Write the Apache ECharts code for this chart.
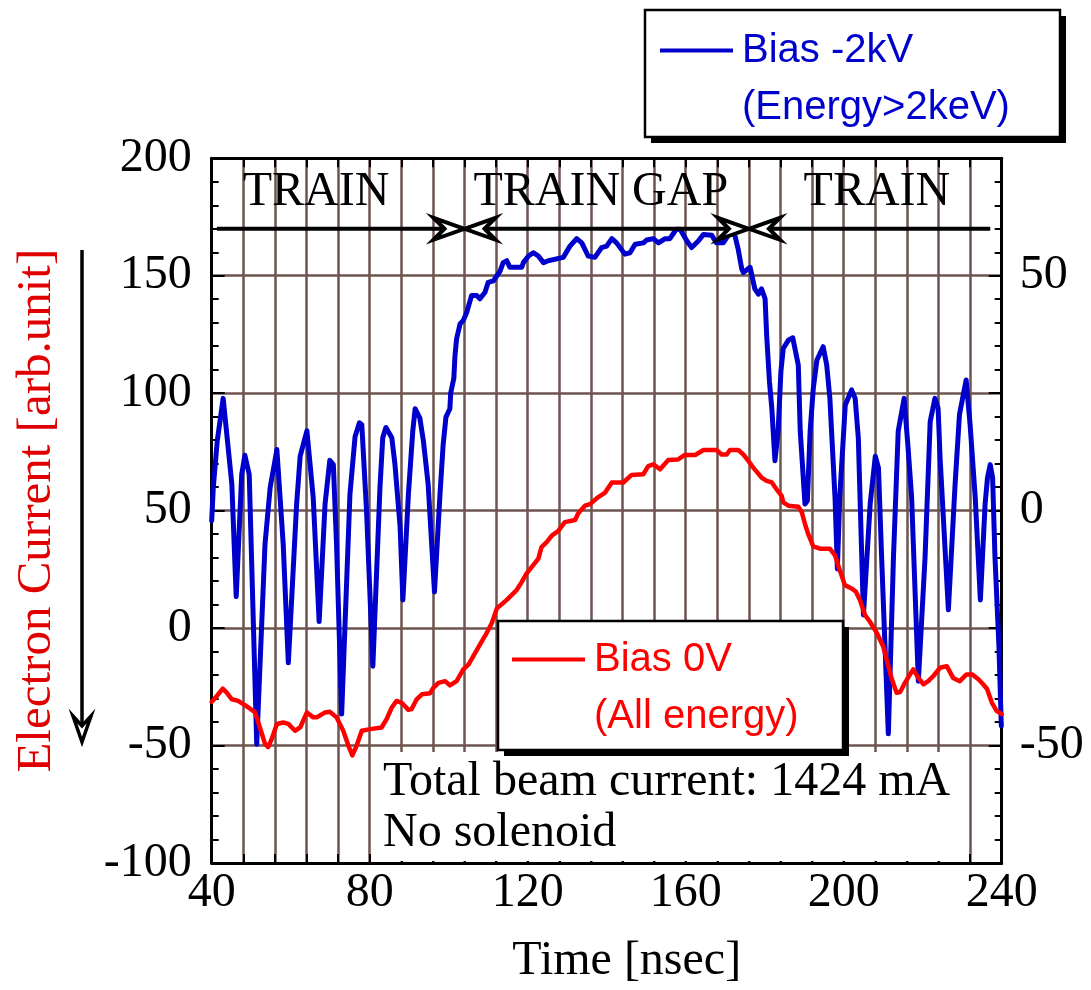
<!DOCTYPE html>
<html>
<head>
<meta charset="utf-8">
<script src="https://cdn.jsdelivr.net/npm/echarts@6/dist/echarts.min.js"></script>
<style>
html,body{margin:0;padding:0;background:#ffffff;}
#chart{width:1091px;height:990px;}
</style>
</head>
<body>
<div id="chart"></div>
<script>
// ---------------- data ----------------
const xTicks = [40, 80, 120, 160, 200, 240];
const leftTicks = [-100, -50, 0, 50, 100, 150, 200];
const rightTicks = [-50, 0, 50];

// Bias -2kV (Energy>2keV), right axis
const blueTime = [40.0, 40.4, 41.4, 42.9, 45.1, 46.2, 47.6, 48.4, 49.5, 51.4,
  53.5, 54.8, 56.5, 58.1, 59.4, 61.5, 62.4, 64.1, 65.7, 67.2,
  68.7, 69.9, 70.8, 71.6, 72.9, 75.0, 76.3, 77.4, 78.0, 79.2,
  80.8, 82.6, 83.3, 84.1, 85.6, 86.4, 87.7, 88.4, 89.8, 90.9,
  91.5, 92.7, 93.6, 94.8, 96.4, 97.8, 98.6, 99.3, 100.3, 100.5,
  101.3, 101.6, 102.0, 102.9, 103.7, 104.6, 105.8, 107.1, 107.9, 109.2,
  110.0, 111.3, 112.2, 113.0, 113.8, 114.7, 115.5, 118.5, 118.9, 120.2,
  121.4, 122.7, 124.0, 125.2, 129.0, 130.7, 132.4, 133.7, 135.3, 137.0,
  138.7, 140.0, 141.3, 142.5, 144.6, 145.9, 147.2, 149.3, 150.1, 151.8,
  153.1, 154.8, 156.0, 157.6, 158.6, 160.3, 161.5, 163.2, 164.5, 166.6,
  167.8, 169.5, 170.4, 171.6, 172.5, 173.3, 174.2, 174.6, 176.3, 177.5,
  178.4, 179.2, 180.1, 180.5, 181.2, 181.8, 182.6, 183.4, 184.1, 184.7,
  186.0, 187.1, 188.5, 189.0, 190.2, 190.8, 191.5, 192.3, 193.2, 194.8,
  195.7, 196.5, 197.8, 198.4, 199.0, 200.4, 202.0, 202.9, 203.7, 205.0,
  206.2, 206.7, 208.0, 208.8, 209.6, 211.3, 212.6, 213.8, 215.3, 216.3,
  217.2, 218.9, 220.6, 221.9, 223.1, 223.9, 224.4, 226.5, 228.2, 229.3,
  231.0, 232.0, 233.3, 234.6, 235.8, 236.4, 237.1, 237.7, 238.3, 239.3,
  239.9];
const blueValue = [-2.1, 4.9, 14.8, 23.9, 5.6, -18.3, 7.7, 11.8, 7.7, -49.7,
  -7.1, 4.9, 13.0, -7.1, -32.4, 1.4, 11.6, 17.0, 2.8, -23.6,
  1.4, 10.7, 9.8, -7.1, -43.3, 3.5, 15.8, 18.7, 18.3, 0,
  -33.1, 4.9, 15.5, 17.7, 15.5, 9.8, -3.5, -19.0, 3.5, 16.9,
  21.7, 19.7, 14.8, 5.6, -17.3, 3.5, 14.1, 19.9, 21.7, 25.0,
  28.2, 33.1, 36.6, 39.8, 40.5, 42.3, 45.8, 45.8, 45.1, 46.5,
  48.6, 48.9, 50.0, 51.0, 52.8, 53.2, 51.8, 51.8, 52.8, 54.2,
  54.9, 54.2, 52.8, 53.2, 53.9, 56.3, 57.9, 57.0, 54.2, 53.9,
  56.0, 56.3, 57.9, 57.0, 54.6, 54.9, 56.7, 57.0, 57.6, 57.9,
  57.0, 57.9, 57.9, 59.9, 59.9, 57.4, 56.0, 57.4, 58.8, 58.6,
  57.0, 57.0, 58.1, 59.9, 58.4, 55.6, 51.4, 50.7, 51.8, 47.2,
  46.1, 47.2, 45.1, 37.3, 27.5, 21.8, 10.6, 16.9, 29.6, 34.5,
  36.3, 36.8, 31.0, 16.9, 1.4, 2.1, 16.9, 26.0, 32.0, 34.9,
  31.0, 23.9, 2.8, -12.4, 2.8, 22.5, 25.7, 23.9, 15.5, -22.2,
  -5.6, 1.4, 11.6, 9.1, -9.9, -47.5, -9.9, 16.9, 23.9, 13.4,
  2.8, -36.3, -9.9, 19.0, 23.9, 21.8, 11.3, -21.1, 5.6, 20.4,
  27.8, 18.3, 2.8, -19.0, 1.4, 7.0, 9.8, 7.0, -9.9, -28.9,
  -45.8];

// Bias 0V (All energy), left axis
const redTime = [40.0, 41.3, 42.8, 43.8, 45.1, 46.7, 48.0, 49.3, 51.0, 52.2,
  53.5, 54.3, 55.2, 56.5, 58.1, 59.4, 61.1, 62.4, 64.1, 65.7,
  66.6, 68.7, 69.9, 71.6, 73.3, 74.6, 75.6, 76.7, 78.0, 80.1,
  83.0, 84.3, 85.6, 86.8, 88.1, 89.8, 90.6, 91.9, 93.2, 95.3,
  96.1, 97.4, 99.1, 100.3, 102.0, 103.7, 105.0, 106.2, 107.9, 109.6,
  110.9, 112.2, 114.7, 117.2, 118.5, 119.7, 121.4, 122.7, 123.5, 124.8,
  126.1, 127.7, 129.4, 132.0, 132.8, 134.5, 135.8, 137.5, 139.6, 141.3,
  144.2, 146.3, 149.3, 150.5, 151.8, 153.5, 155.6, 158.1, 159.8, 162.4,
  164.5, 167.8, 169.1, 170.4, 171.2, 173.3, 174.6, 175.9, 177.1, 179.2,
  180.5, 181.8, 183.0, 184.3, 184.7, 186.0, 188.5, 189.4, 190.2, 191.0,
  192.3, 194.0, 196.5, 197.8, 199.0, 200.3, 202.0, 203.1, 204.1, 205.4,
  206.6, 208.4, 210.0, 211.3, 212.2, 213.4, 214.3, 215.5, 216.8, 217.6,
  218.9, 220.2, 221.4, 222.7, 224.4, 226.1, 227.7, 229.4, 231.1, 232.5,
  234.1, 235.3, 236.3, 237.5, 238.7, 240.0];
const redValue = [-31.4, -28.9, -25.8, -27.5, -30.3, -31.0, -32.4, -33.8, -35.9, -42.3,
  -49.3, -50.7, -47.2, -40.8, -40.2, -40.8, -43.7, -42.3, -35.9, -38.0,
  -38.0, -35.9, -35.6, -38.0, -43.7, -50.0, -54.2, -50.0, -43.7, -43.0,
  -42.3, -38.7, -33.8, -31.0, -31.8, -34.8, -34.5, -30.3, -28.2, -27.7,
  -25.4, -23.3, -22.6, -24.4, -22.6, -17.6, -15.5, -12.0, -7.0, -2.1,
  2.1, 8.4, 12.0, 16.2, 19.7, 23.2, 26.8, 29.6, 34.5, 36.6,
  39.4, 41.3, 45.1, 46.0, 48.9, 52.1, 52.8, 55.3, 57.7, 62.0,
  62.0, 65.2, 65.5, 69.0, 69.7, 67.6, 71.6, 71.8, 73.7, 73.7,
  75.8, 75.8, 73.9, 73.9, 75.8, 75.8, 73.9, 71.1, 68.3, 64.1,
  62.7, 62.0, 59.1, 56.3, 53.5, 52.1, 51.7, 49.3, 44.3, 40.1,
  34.8, 33.8, 33.8, 31.0, 24.7, 18.3, 16.9, 15.5, 12.0, 5.6,
  2.8, -2.1, -7.8, -16.2, -21.8, -27.5, -27.2, -23.3, -19.7, -17.6,
  -21.2, -23.9, -22.6, -20.4, -16.9, -16.2, -21.2, -22.6, -19.7, -19.7,
  -21.8, -23.9, -25.9, -31.7, -35.2, -36.6];

// region annotation (ns, left-axis units)
const regionNames = ['TRAIN', 'TRAIN GAP', 'TRAIN'];
const regionCenters = [66.4, 138.5, 208.4];
const regionBounds = [41.3, 104, 176, 237.1];
const regionArrowLevel = 170;
const regionTextLevel = 185.5;

const notes = ['Total beam current: 1424 mA', 'No solenoid'];

// ---------------- style ----------------
const SERIF = "'Liberation Serif', 'Times New Roman', serif";
const SANS = "'Liberation Sans', Arial, sans-serif";
const GRID = '#6e5550';
const BLUE = '#0000cc';
const RED = '#ff0000';

const chart = echarts.init(document.getElementById('chart'), null, {renderer: 'canvas'});

const serifLabel = {color: '#000', fontFamily: SERIF, fontSize: 48};

function legendRich(color) {
  return {
    ln: {width: 73, height: 4, backgroundColor: color, lineHeight: 57},
    sp: {width: 73, lineHeight: 57},
    t: {color: color, fontFamily: SANS, fontSize: 40, lineHeight: 57, padding: [0, 0, 0, 9]}
  };
}

const option = {
  animation: false,
  backgroundColor: '#ffffff',
  grid: {left: 211.7, right: 89.3, top: 158.3, bottom: 121.7, containLabel: false},
  xAxis: [
    {
      type: 'value', position: 'bottom',
      min: xTicks[0], max: xTicks[xTicks.length - 1], interval: 40,
      name: 'Time [nsec]', nameLocation: 'middle', nameGap: 74,
      nameTextStyle: {color: '#000', fontFamily: SERIF, fontSize: 48, padding: [0, 0, 0, 40]},
      axisLine: {show: true, onZero: false, lineStyle: {color: '#000', width: 3}},
      axisTick: {show: true, inside: true, length: 9, lineStyle: {color: '#000', width: 2}},
      minorTick: {show: true, splitNumber: 5, length: 9, lineStyle: {color: '#000', width: 2}},
      axisLabel: Object.assign({margin: 6}, serifLabel),
      splitLine: {show: true, lineStyle: {color: GRID, width: 2.5}},
      minorSplitLine: {show: true, lineStyle: {color: GRID, width: 2.5}}
    },
    {
      type: 'value', position: 'top',
      min: xTicks[0], max: xTicks[xTicks.length - 1], interval: 40,
      axisLine: {show: true, onZero: false, lineStyle: {color: '#000', width: 3}},
      axisTick: {show: true, inside: true, length: 9, lineStyle: {color: '#000', width: 2}},
      minorTick: {show: true, splitNumber: 5, length: 9, lineStyle: {color: '#000', width: 2}},
      axisLabel: {show: false},
      splitLine: {show: false}
    }
  ],
  yAxis: [
    {
      type: 'value', position: 'left',
      min: leftTicks[0], max: leftTicks[leftTicks.length - 1], interval: 50,
      name: 'Electron Current [arb.unit]', nameLocation: 'middle', nameGap: 150, nameRotate: 90,
      nameTextStyle: {color: '#e00000', fontFamily: SERIF, fontSize: 49},
      axisLine: {show: true, onZero: false, lineStyle: {color: '#000', width: 3}},
      axisTick: {show: true, inside: true, length: 13, lineStyle: {color: '#000', width: 2}},
      minorTick: {show: true, splitNumber: 5, length: 7, lineStyle: {color: '#000', width: 2}},
      axisLabel: Object.assign({margin: 20}, serifLabel),
      splitLine: {show: true, lineStyle: {color: GRID, width: 2.5}}
    },
    {
      type: 'value', position: 'right',
      min: -75, max: 75, interval: 25,
      axisLine: {show: true, onZero: false, lineStyle: {color: '#000', width: 3}},
      axisTick: {show: true, inside: true, length: 13, lineStyle: {color: '#000', width: 2}},
      minorTick: {show: true, splitNumber: 5, length: 7, lineStyle: {color: '#000', width: 2}},
      axisLabel: Object.assign({margin: 18, formatter: v => rightTicks.indexOf(v) >= 0 ? String(v) : ''}, serifLabel),
      splitLine: {show: false}
    }
  ],
  legend: [
    {
      data: ['Bias -2kV'], left: 645, top: 10, padding: [12, 50, 2, 10],
      itemWidth: 0, itemHeight: 0, icon: 'rect', selectedMode: false,
      backgroundColor: 'transparent', borderWidth: 0,
      formatter: () => '{ln| }{t|Bias -2kV}\n{sp| }{t|(Energy>2keV)}',
      textStyle: {color: BLUE, fontFamily: SANS, fontSize: 40, lineHeight: 57, rich: legendRich(BLUE)}
    },
    {
      data: ['Bias 0V'], left: 498, top: 621, padding: [10, 43, 5, 9],
      itemWidth: 0, itemHeight: 0, icon: 'rect', selectedMode: false,
      backgroundColor: 'transparent', borderWidth: 0,
      formatter: () => '{ln| }{t|Bias 0V}\n{sp| }{t|(All energy)}',
      textStyle: {color: RED, fontFamily: SANS, fontSize: 40, lineHeight: 57, rich: legendRich(RED)}
    }
  ],
  series: [
    {
      name: 'Bias -2kV', type: 'line', xAxisIndex: 0, yAxisIndex: 1,
      data: blueTime.map((t, i) => [t, blueValue[i]]),
      showSymbol: false, symbol: 'none',
      lineStyle: {color: BLUE, width: 5, join: 'round', cap: 'round'}, itemStyle: {color: BLUE}, z: 2
    },
    {
      name: 'Bias 0V', type: 'line', xAxisIndex: 0, yAxisIndex: 0,
      data: redTime.map((t, i) => [t, redValue[i]]),
      showSymbol: false, symbol: 'none',
      lineStyle: {color: RED, width: 4.5, join: 'round', cap: 'round'}, itemStyle: {color: RED}, z: 3
    }
  ]
};

chart.setOption(option);

// ---------------- annotations ----------------
const P = (t, v) => chart.convertToPixel({xAxisIndex: 0, yAxisIndex: 0}, [t, v]);

function head(tipX, y, dir) {
  return {
    type: 'polygon', z: 6,
    shape: {points: [[tipX, y], [tipX - dir * 31, y - 11], [tipX - dir * 20, y], [tipX - dir * 31, y + 11]]},
    style: {fill: '#fff', stroke: '#000', lineWidth: 4, lineJoin: 'miter'}
  };
}
function seg(x1, y1, x2, y2, w) {
  return {type: 'line', z: 6, shape: {x1: x1, y1: y1, x2: x2, y2: y2}, style: {stroke: '#000', lineWidth: w || 4}};
}
function boxWithShadow(x, y, w, h, z) {
  return [
    {type: 'rect', z: z, shape: {x: x + 6, y: y + 6, width: w, height: h}, style: {fill: '#000'}},
    {type: 'rect', z: z, shape: {x: x, y: y, width: w, height: h}, style: {fill: '#fff', stroke: '#000', lineWidth: 2.5}}
  ];
}

const g = [];
const ay = P(regionBounds[0], regionArrowLevel)[1];
const bx = regionBounds.map(t => P(t, regionArrowLevel)[0]);
g.push(seg(bx[0], ay, bx[1] - 20, ay));
g.push(head(bx[1], ay, 1));
g.push(seg(bx[1] + 20, ay, bx[2] - 20, ay));
g.push(head(bx[1], ay, -1));
g.push(head(bx[2], ay, 1));
g.push(seg(bx[2] + 20, ay, bx[3], ay));
g.push(head(bx[2], ay, -1));

regionNames.forEach((name, i) => {
  const p = P(regionCenters[i], regionTextLevel);
  g.push({
    type: 'text', z: 6, x: p[0], y: p[1],
    style: {text: name, fill: '#000', font: '48px ' + SERIF, align: 'center', verticalAlign: 'middle'}
  });
});

// note box
g.push({type: 'rect', z: 3, shape: {x: 372, y: 752, width: 597, height: 109}, style: {fill: '#fff'}});
g.push({type: 'text', z: 3, x: 383, y: 782, style: {text: notes[0], fill: '#000', font: '48px ' + SERIF, align: 'left', verticalAlign: 'middle'}});
g.push({type: 'text', z: 3, x: 383, y: 833, style: {text: notes[1], fill: '#000', font: '48px ' + SERIF, align: 'left', verticalAlign: 'middle'}});

// legend frames (behind legend text)
boxWithShadow(645, 10, 415, 127, 3.5).forEach(e => g.push(e));
boxWithShadow(498, 621, 345, 129, 3.5).forEach(e => g.push(e));

// y-axis title arrow
g.push(seg(82, 250, 82, 730, 3.5));
g.push({
  type: 'polygon', z: 6,
  shape: {points: [[82, 742], [73, 716], [82, 726], [91, 716]]},
  style: {fill: '#fff', stroke: '#000', lineWidth: 3.5, lineJoin: 'miter'}
});

chart.setOption({graphic: {elements: g}});
</script>
</body>
</html>
